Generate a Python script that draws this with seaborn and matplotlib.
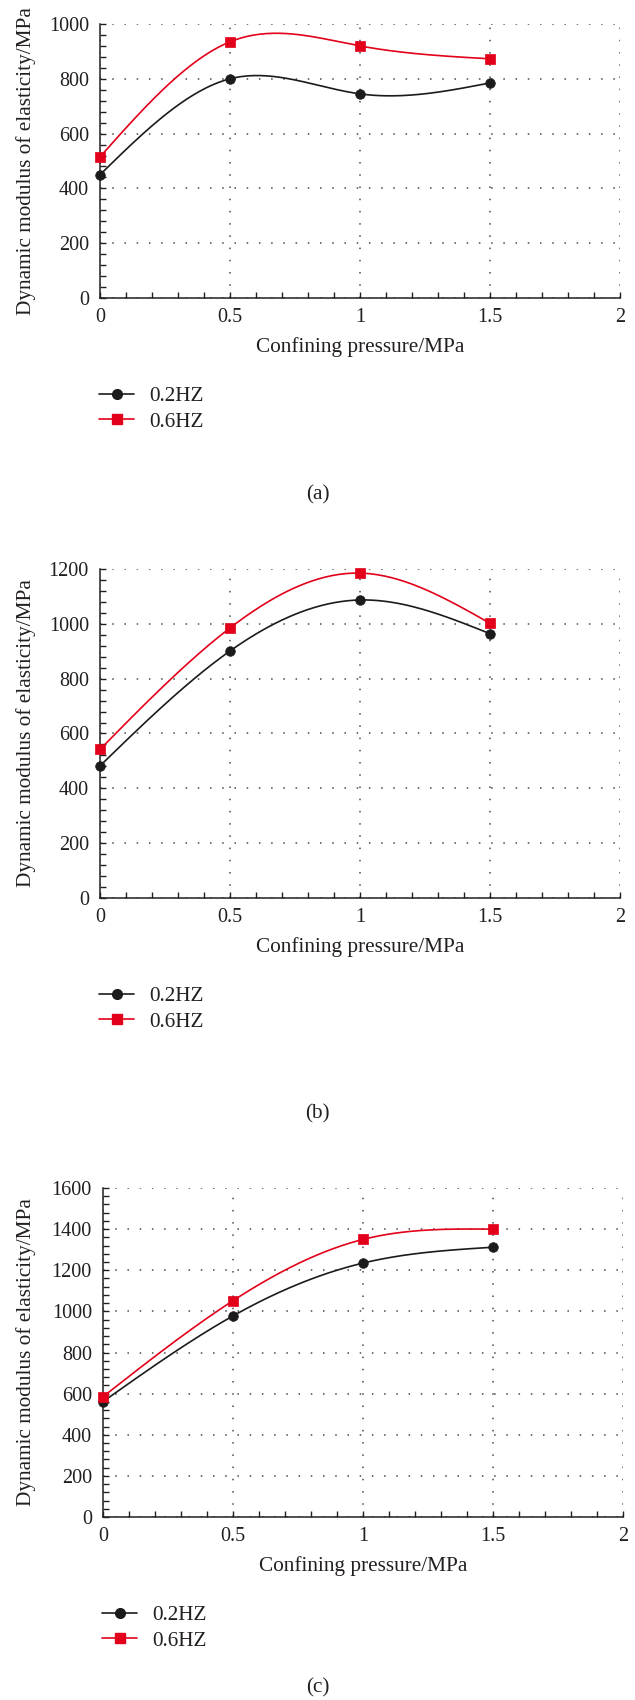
import numpy as np
import matplotlib
matplotlib.use("Agg")
import matplotlib.pyplot as plt
from matplotlib.lines import Line2D
from matplotlib.ticker import MultipleLocator, FuncFormatter
import seaborn as sns
import pandas as pd

sns.set_theme(style="white")
plt.rcParams['font.family'] = ['Liberation Serif', 'DejaVu Serif']

# ---------------- data ----------------
pressure = [0.0, 0.5, 1.0, 1.5]
series_labels = ["0.2HZ", "0.6HZ"]

a_02hz = [450, 800, 745, 785]
a_06hz = [515, 935, 920, 873]

b_02hz = [482, 901, 1087, 964]
b_06hz = [542, 985, 1185, 1002]

c_02hz = [561, 978, 1235, 1312]
c_06hz = [585, 1052, 1350, 1400]

panel_tags = ["(a)", "(b)", "(c)"]
y_max = [1000, 1200, 1600]

xlabel_text = "Confining pressure/MPa"
ylabel_text = "Dynamic modulus of elasticity/MPa"

# ---------------- style ----------------
W, H = 635, 1700
DPI = 100
TXT = "#231f20"
BLACK = "#1b1b1b"
RED = "#e2001a"
FS_TICK = 14.5
FS_LAB = 15.3


def natural_spline(x, y, n=60):
    x = np.asarray(x, float)
    y = np.asarray(y, float)
    m = len(x)
    h = np.diff(x)
    A = np.zeros((m, m))
    r = np.zeros(m)
    A[0, 0] = 1
    A[-1, -1] = 1
    for i in range(1, m - 1):
        A[i, i - 1] = h[i - 1]
        A[i, i] = 2 * (h[i - 1] + h[i])
        A[i, i + 1] = h[i]
        r[i] = 6 * ((y[i + 1] - y[i]) / h[i] - (y[i] - y[i - 1]) / h[i - 1])
    M = np.linalg.solve(A, r)
    xs, ys = [], []
    for i in range(m - 1):
        t = np.linspace(x[i], x[i + 1], n, endpoint=(i == m - 2))
        a = x[i + 1] - t
        b = t - x[i]
        s = (M[i] * a ** 3 + M[i + 1] * b ** 3) / (6 * h[i]) \
            + (y[i] / h[i] - M[i] * h[i] / 6) * a \
            + (y[i + 1] / h[i] - M[i + 1] * h[i] / 6) * b
        xs.append(t)
        ys.append(s)
    return np.concatenate(xs), np.concatenate(ys)


fig = plt.figure(figsize=(W / DPI, H / DPI), dpi=DPI)

# axes boxes in pixels: left, right, top, bottom
boxes = [(100, 620, 24, 298), (100, 620, 569, 898), (103, 623, 1188, 1517)]
tag_y = [495, 1114, 1688]
data = [(a_02hz, a_06hz), (b_02hz, b_06hz), (c_02hz, c_06hz)]

for k in range(3):
    l, r, t, b = boxes[k]
    ax = fig.add_axes([l / W, 1 - b / H, (r - l) / W, (b - t) / H])
    s02, s06 = data[k]
    for vals, col, mk in [(s02, BLACK, "o"), (s06, RED, "s")]:
        xs, ys = natural_spline(pressure, vals)
        df_line = pd.DataFrame({"x": xs, "y": ys})
        sns.lineplot(data=df_line, x="x", y="y", ax=ax, color=col, lw=1.2,
                     sort=False, estimator=None, zorder=3)
        df_pts = pd.DataFrame({"x": pressure, "y": vals})
        sns.scatterplot(data=df_pts, x="x", y="y", ax=ax, color=col, marker=mk,
                        s=48 if mk == "o" else 44, edgecolor=col, linewidth=0.5,
                        zorder=4, clip_on=False)

    ax.set_xlim(0, 2)
    ax.set_ylim(0, y_max[k])
    ax.xaxis.set_major_locator(MultipleLocator(0.5))
    ax.xaxis.set_minor_locator(MultipleLocator(0.1))
    ax.yaxis.set_major_locator(MultipleLocator(200))
    ax.yaxis.set_minor_locator(MultipleLocator(40))
    ax.xaxis.set_major_formatter(FuncFormatter(lambda v, p: f"{v:g}"))
    ax.yaxis.set_major_formatter(FuncFormatter(lambda v, p: f"{v:g}"))

    ax.grid(True, which="major", linestyle=(0, (1, 7)), color="#4a4a4a",
            linewidth=1.1)
    for sp in ["top", "right"]:
        ax.spines[sp].set_visible(False)
    for sp in ["left", "bottom"]:
        ax.spines[sp].set_color(TXT)
        ax.spines[sp].set_linewidth(1.1)
    ax.tick_params(which="both", direction="in", length=4, width=1,
                   colors=TXT, labelsize=FS_TICK, pad=8,
                   bottom=True, left=True, top=False, right=False)
    ax.tick_params(axis="x", which="both", pad=7)

    ax.set_xlabel(xlabel_text, fontsize=FS_LAB, color=TXT)
    ax.set_ylabel(ylabel_text, fontsize=FS_LAB, color=TXT)
    hpx = b - t
    ax.xaxis.label.set_va("center")
    ax.xaxis.set_label_coords(0.5, -49 / hpx)
    ax.yaxis.label.set_va("center")
    ax.yaxis.set_label_coords((26 - l) / (r - l), 0.5)

    handles = [
        Line2D([], [], color=BLACK, lw=1.2, marker="o", markersize=7,
               markeredgecolor=BLACK),
        Line2D([], [], color=RED, lw=1.2, marker="s", markersize=6.5,
               markeredgecolor=RED),
    ]
    fig.legend(handles, series_labels, loc="center left",
               bbox_to_anchor=((l - 1) / W, 1 - (b + 111) / H),
               frameon=False, fontsize=FS_LAB, handlelength=1.65,
               handletextpad=0.7, labelspacing=0.28, borderpad=0,
               borderaxespad=0, labelcolor=TXT)

    fig.text(0.5, 1 - tag_y[k] / H, panel_tags[k], ha="center", va="center",
             fontsize=FS_LAB, color=TXT)

fig.savefig("out.png", dpi=DPI)
